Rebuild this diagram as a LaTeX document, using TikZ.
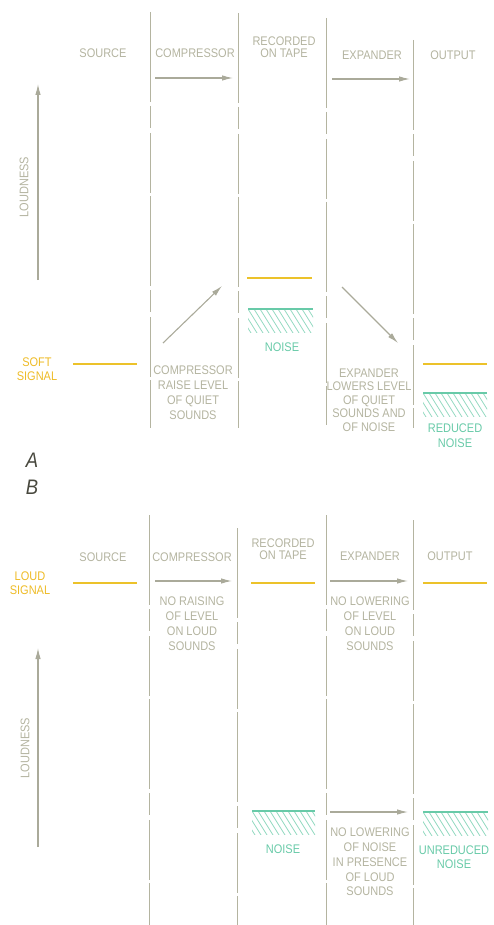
\documentclass[tikz,border=0pt]{standalone}
\usepackage{fontspec}
\setmainfont{Liberation Sans}[FakeStretch=0.88]
\usetikzlibrary{arrows.meta}
\definecolor{inkgray}{RGB}{180,180,160}
\definecolor{arrowgray}{RGB}{170,170,154}
\definecolor{sigyellow}{RGB}{236,194,42}
\definecolor{noisegreen}{RGB}{104,202,168}
\definecolor{markdark}{RGB}{72,72,62}
\tikzset{
  lbl/.style={text=inkgray, font=\fontsize{12.5}{15}\selectfont, align=center, inner sep=0pt},
  sigtext/.style={lbl, text=sigyellow!90!orange},
  noisetext/.style={lbl, text=noisegreen},
  divider/.style={draw=inkgray, line width=0.8pt, dash pattern=on 90pt off 4pt on 22pt off 5pt on 60pt off 3pt},
  flow/.style={->, draw=arrowgray, line width=1.1pt},
  sigline/.style={draw=sigyellow, line width=2.4pt},
  noiseline/.style={draw=noisegreen, line width=2.6pt},
}
% noise level with hatching below: x1, x2, y
\newcommand{\noiseband}[3]{%
  \begin{scope}
    \clip (#1,#3) rectangle (#2,#3+23);
    \foreach \h in {-18,-12,...,66}
      \draw[noisegreen!70, line width=0.8pt] (#1+\h,#3) -- ++(15,24);
  \end{scope}
  \draw[noiseline] (#1,#3) -- (#2,#3);
}
\begin{document}
\begin{tikzpicture}[x=1pt, y=-1pt, >={Latex[length=11pt,width=5.5pt]}]
\useasboundingbox (0,0) rectangle (494,925);

%%%%%%%%%%%%%%%% A: soft signal
% column dividers
\foreach \x/\ya/\yb in {150/12/428, 238/13/428, 326/18/425, 413/40/428}
  \draw[divider] (\x,\ya) -- (\x,\yb);
% headings
\node[lbl] (srcA) at (103,53) {SOURCE};
\node[lbl] (compA) at (195,53) {COMPRESSOR};
\node[lbl, font=\fontsize{12.5}{12}\selectfont] (tapeA) at (284,47) {RECORDED\\ON TAPE};
\node[lbl] (expA) at (372,55) {EXPANDER};
\node[lbl] (outA) at (453,55) {OUTPUT};
% flow arrows
\coordinate (cA1) at (155,78); \coordinate (cA2) at (233,78);
\coordinate (eA1) at (332,79); \coordinate (eA2) at (410,79);
\draw[flow] (cA1) -- (cA2);
\draw[flow] (eA1) -- (eA2);
% loudness axis
\coordinate (axA0) at (38,280); \coordinate (axA1) at (38,84);
\draw[flow] (axA0) -- (axA1);
\node[lbl, rotate=90] (loudA) at (24,187) {LOUDNESS};
% signal levels
\node[sigtext, font=\fontsize{12.5}{14}\selectfont] (softA) at (37,369) {SOFT\\SIGNAL};
\draw[sigline] (73,364) -- (137,364);
\draw[sigline] (247,278) -- (312,278);
\draw[sigline] (423,364) -- (487,364);
% noise levels
\noiseband{248}{313}{309}
\noiseband{423}{487}{393}
\node[noisetext] (noiseA) at (282,347) {NOISE};
\node[noisetext] (rednoiseA) at (455,436) {REDUCED\\NOISE};
% level changes
\coordinate (upA0) at (163,343); \coordinate (upA1) at (222,286);
\coordinate (dnA0) at (342,287); \coordinate (dnA1) at (398,343);
\draw[flow] (upA0) -- (upA1);
\draw[flow] (dnA0) -- (dnA1);
\node[lbl] (compnoteA) at (193,393) {COMPRESSOR\\RAISE LEVEL\\OF QUIET\\SOUNDS};
\node[lbl, font=\fontsize{12.5}{13.5}\selectfont] (expnoteA) at (369,400) {EXPANDER\\LOWERS LEVEL\\OF QUIET\\SOUNDS AND\\OF NOISE};

% panel letters
\node[text=markdark, font=\fontsize{21}{21}\selectfont\itshape, inner sep=0pt] (letA) at (32,460) {A};
\node[text=markdark, font=\fontsize{21}{21}\selectfont\itshape, inner sep=0pt] (letB) at (32,487) {B};

%%%%%%%%%%%%%%%% B: loud signal
% column dividers
\foreach \x/\ya/\yb in {149/515/925, 237/528/925, 326/515/925, 413/520/925}
  \draw[divider] (\x,\ya) -- (\x,\yb);
% headings
\node[lbl] (srcB) at (103,557) {SOURCE};
\node[lbl] (compB) at (192,557) {COMPRESSOR};
\node[lbl, font=\fontsize{12.5}{12}\selectfont] (tapeB) at (283,549) {RECORDED\\ON TAPE};
\node[lbl] (expB) at (370,556) {EXPANDER};
\node[lbl] (outB) at (450,556) {OUTPUT};
\node[sigtext, font=\fontsize{12.5}{14}\selectfont] (loudB) at (30,583) {LOUD\\SIGNAL};
% signal levels
\draw[sigline] (73,583) -- (137,583);
\draw[sigline] (251,583) -- (315,583);
\draw[sigline] (423,583) -- (487,583);
% flow arrows
\coordinate (cB1) at (155,581); \coordinate (cB2) at (232,581);
\coordinate (eB1) at (330,581); \coordinate (eB2) at (408,581);
\draw[flow] (cB1) -- (cB2);
\draw[flow] (eB1) -- (eB2);
\node[lbl] (compnoteB) at (192,624) {NO RAISING\\OF LEVEL\\ON LOUD\\SOUNDS};
\node[lbl] (expnoteB) at (370,624) {NO LOWERING\\OF LEVEL\\ON LOUD\\SOUNDS};
% loudness axis
\coordinate (axB0) at (38,847); \coordinate (axB1) at (38,648);
\draw[flow] (axB0) -- (axB1);
\node[lbl, rotate=90] (loudnessB) at (25,748) {LOUDNESS};
% noise levels
\noiseband{252}{315}{811}
\noiseband{423}{488}{812}
\node[noisetext] (noiseB) at (283,849) {NOISE};
\node[noisetext, font=\fontsize{12.5}{14}\selectfont] (unrednoiseB) at (454,857) {UNREDUCED\\NOISE};
\coordinate (nB1) at (330,812); \coordinate (nB2) at (408,812);
\draw[flow] (nB1) -- (nB2);
\node[lbl, font=\fontsize{12.5}{14.75}\selectfont] (noisenoteB) at (370,862) {NO LOWERING\\OF NOISE\\IN PRESENCE\\OF LOUD\\SOUNDS};
\end{tikzpicture}
\end{document}
